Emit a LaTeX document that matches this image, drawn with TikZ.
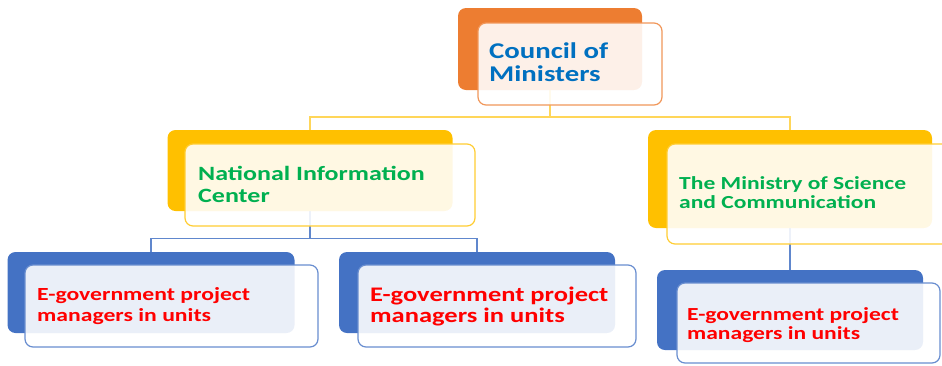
\documentclass[tikz,border=0pt]{standalone}
\usepackage{fontspec}
\setmainfont{Carlito}[FakeStretch=1.28]
\usetikzlibrary{backgrounds}
\definecolor{corange}{HTML}{ED7D31}
\definecolor{cgold}{HTML}{FFC000}
\definecolor{cblue}{HTML}{4472C4}
\definecolor{tblue}{HTML}{0070C0}
\definecolor{tgreen}{HTML}{00B050}
\definecolor{tred}{HTML}{FF0000}
\tikzset{
  backbox/.style={rectangle, rounded corners=8pt, inner sep=0pt, fill=#1},
  frontbox/.style={rectangle, rounded corners=8pt, inner sep=0pt, fill=white, fill opacity=0.89, draw=#1!80, line width=1.2pt},
  lbl/.style={anchor=west, align=left, inner sep=0pt, font=\bfseries},
  goldline/.style={draw=cgold!65, line width=1.6pt},
  blueline/.style={draw=cblue!85, line width=1.4pt}
}
\begin{document}
\begin{tikzpicture}[x=1pt,y=-1pt]
\useasboundingbox (0,0) rectangle (942,365);
\clip (0,0) rectangle (942,365);
% top
\node[backbox=corange, minimum width=184pt, minimum height=82pt] (cmB) at (550,49) {};
\node[frontbox=corange, minimum width=184pt, minimum height=82pt] (cmF) at (570,64) {};
% middle left
\node[backbox=cgold, minimum width=285pt, minimum height=81pt] (nicB) at (310,170.5) {};
\node[frontbox=cgold, minimum width=290pt, minimum height=82pt] (nicF) at (330,185) {};
% middle right
\node[backbox=cgold, minimum width=284pt, minimum height=98pt] (mscB) at (790,179) {};
\node[frontbox=cgold, minimum width=290pt, minimum height=100pt] (mscF) at (812,194) {};
% bottom
\node[backbox=cblue, minimum width=287pt, minimum height=81pt] (eb1B) at (151,292.5) {};
\node[frontbox=cblue, minimum width=293pt, minimum height=82pt] (eb1F) at (171.5,306) {};
\node[backbox=cblue, minimum width=276pt, minimum height=81pt] (eb2B) at (477,292.5) {};
\node[frontbox=cblue, minimum width=278pt, minimum height=82pt] (eb2F) at (497,306) {};
\node[backbox=cblue, minimum width=266pt, minimum height=80pt] (eb3B) at (790,310) {};
\node[frontbox=cblue, minimum width=263pt, minimum height=80pt] (eb3F) at (808.5,323) {};
% connectors
\begin{pgfonlayer}{background}
\draw[goldline] (cmB.south) -- ++(0,27) coordinate (busA);
\draw[goldline] (busA) -| (nicB.north);
\draw[goldline] (busA) -| (mscB.north);
\draw[blueline] (nicB.south) -- ++(0,27) coordinate (busB);
\draw[blueline] (busB) -| (eb1B.north);
\draw[blueline] (busB) -| (eb2B.north);
\draw[blueline] (mscB.south) -- (eb3B.north);
\end{pgfonlayer}
% texts
\node[lbl, text=tblue, font=\bfseries\fontsize{22.5}{23.5}\selectfont] (tCM) at (489,62) {Council of\\Ministers};
\node[lbl, text=tgreen, font=\bfseries\fontsize{20.3}{22}\selectfont] (tNIC) at (198,184) {National Information\\Center};
\node[lbl, text=tgreen, font=\bfseries\fontsize{18.4}{19.5}\selectfont] (tMSC) at (679,192.5) {The Ministry of Science\\and Communication};
\node[lbl, text=tred, font=\bfseries\fontsize{18.5}{20.5}\selectfont] (tEB1) at (37,306) {E-government project\\managers in units};
\node[lbl, text=tred, font=\bfseries\fontsize{20.7}{21}\selectfont] (tEB2) at (370,306) {E-government project\\managers in units};
\node[lbl, text=tred, font=\bfseries\fontsize{18.4}{19.5}\selectfont] (tEB3) at (687,325) {E-government project\\managers in units};
\end{tikzpicture}
\end{document}
